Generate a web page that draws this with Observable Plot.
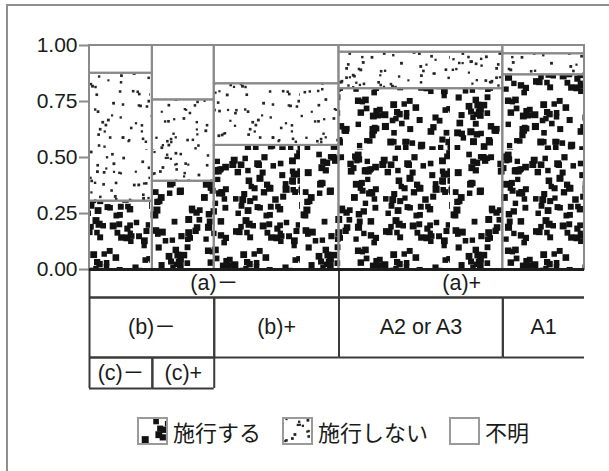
<!DOCTYPE html>
<html><head><meta charset="utf-8">
<script src="https://cdn.jsdelivr.net/npm/d3@7"></script>
<script src="https://cdn.jsdelivr.net/npm/@observablehq/plot@0.6"></script>
<style>
body { margin:0; background:#fff; }
#wrap { position:relative; width:609px; height:471px; overflow:hidden; font-family:"Liberation Sans", Arial, sans-serif; background:#fff; }
#frame { position:absolute; left:6px; top:4px; width:700px; height:600px; border-top:2px solid #8e8e8e; border-left:2px solid #8e8e8e; }
#chart { position:absolute; left:0; top:0; }
#legend { position:absolute; left:137px; top:416px; display:flex; align-items:center; font-family:"Noto Sans CJK JP", sans-serif; font-size:22px; color:#1a1a1a; line-height:30px; }
#legend svg { display:block; }
#legend .txt { margin-left:5px; margin-right:21px; }
</style>
</head><body>
<div id="wrap"><div id="frame"></div><div id="chart"></div><div id="legend"></div></div>
<script>
// ---- data ----
const aLevel = ["(a)－", "(a)－", "(a)－", "(a)+", "(a)+"];
const bLevel = ["(b)－", "(b)－", "(b)+", "A2 or A3", "A1"];
const cLevel = ["(c)－", "(c)+", "", "", ""];
const colShare = [0.127, 0.125, 0.252, 0.331, 0.165];
const responses = ["施行する", "施行しない", "不明"];
const shareYes = [0.305, 0.394, 0.554, 0.807, 0.869];
const shareNo = [0.571, 0.363, 0.275, 0.163, 0.094];
const shareUnknown = [0.124, 0.243, 0.171, 0.030, 0.037];
const yTicks = [0, 0.25, 0.5, 0.75, 1];

// ---- layout ----
const rowA = [-0.125, 0], rowB = [-0.393, -0.125], rowC = [-0.531, -0.393];
const lineGray = "#8a8a8a", lineDark = "#3a3a3a";
const font = "'Liberation Sans', Arial, 'Noto Sans CJK JP', sans-serif";

const edges = [0];
colShare.forEach((s, i) => edges.push(edges[i] + s));
const total = edges[edges.length - 1];
for (let i = 0; i < edges.length; i++) edges[i] /= total;

const shares = [shareYes, shareNo, shareUnknown];
const cells = [];
colShare.forEach((_, i) => {
  let y = 0;
  responses.forEach((r, k) => {
    const v = shares[k][i];
    cells.push({col: i, response: r, x1: edges[i], x2: edges[i + 1], y1: y, y2: y + v});
    y += v;
  });
});

function spans(levels, row) {
  const out = [];
  let start = 0;
  for (let i = 1; i <= levels.length; i++) {
    if (i === levels.length || levels[i] !== levels[start]) {
      if (levels[start]) out.push({label: levels[start], x1: edges[start], x2: edges[i], y1: row[0], y2: row[1]});
      start = i;
    }
  }
  return out;
}
const boxes = [...spans(aLevel, rowA), ...spans(bLevel, rowB), ...spans(cLevel, rowC)];
const hLines = boxes.flatMap(b => [{x1: b.x1, x2: b.x2, y: b.y1}, {x1: b.x1, x2: b.x2, y: b.y2}]);
const vLines = boxes.flatMap(b => {
  const l = [{x: b.x1, y1: b.y1, y2: b.y2}];
  if (b.x2 < 0.999) l.push({x: b.x2, y1: b.y1, y2: b.y2});
  return l;
});

const fills = {"施行する": "url(#patYes)", "施行しない": "url(#patNo)", "不明": "white"};

const svg = Plot.plot({
  width: 609, height: 400,
  marginLeft: 89, marginRight: 25, marginTop: 45, marginBottom: 12,
  x: {domain: [0, 1], axis: null},
  y: {domain: [rowC[0], 1]},
  style: {fontFamily: font, fontSize: "21px", color: "#1a1a1a", background: "transparent"},
  marks: [
    ...responses.map(r => Plot.rect(cells.filter(d => d.response === r), {x1: "x1", x2: "x2", y1: "y1", y2: "y2", fill: fills[r]})),
    Plot.rect(cells, {x1: "x1", x2: "x2", y1: "y1", y2: "y2", fill: "none", stroke: lineGray, strokeWidth: 2}),
    Plot.axisY({ticks: yTicks, tickFormat: d3.format(".2f"), tickSize: 10, tickPadding: 2, fontSize: 21, stroke: lineGray, strokeWidth: 2, fill: "#1a1a1a", label: null}),
    Plot.ruleY(hLines, {x1: "x1", x2: "x2", y: "y", stroke: lineDark, strokeWidth: 2}),
    Plot.ruleX(vLines, {x: "x", y1: "y1", y2: "y2", stroke: lineDark, strokeWidth: 2}),
    Plot.ruleY([0], {stroke: "#1e1e1e", strokeWidth: 3}),
    Plot.text(boxes, {x: d => (d.x1 + d.x2) / 2, y: d => (d.y1 + d.y2) / 2, text: "label", fontSize: 21.5, fill: "#1a1a1a"})
  ]
});

// ---- texture patterns (styling only) ----
function lcg(seed) { let s = seed; return () => (s = (s * 1664525 + 1013904223) % 4294967296) / 4294967296; }
const defs = d3.select(svg).insert("defs", ":first-child");
function makePattern(id, tile, count, size, color, seed) {
  const rnd = lcg(seed);
  const p = defs.append("pattern").attr("id", id).attr("patternUnits", "userSpaceOnUse")
    .attr("width", tile).attr("height", tile);
  p.append("rect").attr("width", tile).attr("height", tile).attr("fill", "white");
  for (let i = 0; i < count; i++) {
    const x = rnd() * tile, y = rnd() * tile;
    const s = size * (0.85 + 0.3 * rnd());
    p.append("rect").attr("x", x).attr("y", y).attr("width", s).attr("height", s).attr("fill", color);
  }
}
makePattern("patYes", 150, 255, 6.2, "#121212", 7);
makePattern("patNo", 150, 240, 2.5, "#262626", 31);

document.getElementById("chart").appendChild(svg);

// ---- legend ----
const legend = d3.select("#legend");
responses.forEach(r => {
  const sw = legend.append("svg").attr("width", 31).attr("height", 28);
  sw.append("rect").attr("x", 1).attr("y", 1).attr("width", 29).attr("height", 26)
    .attr("fill", fills[r]).attr("stroke", "#9a9a9a").attr("stroke-width", 2);
  legend.append("span").attr("class", "txt").text(r);
});
</script>
</body></html>
